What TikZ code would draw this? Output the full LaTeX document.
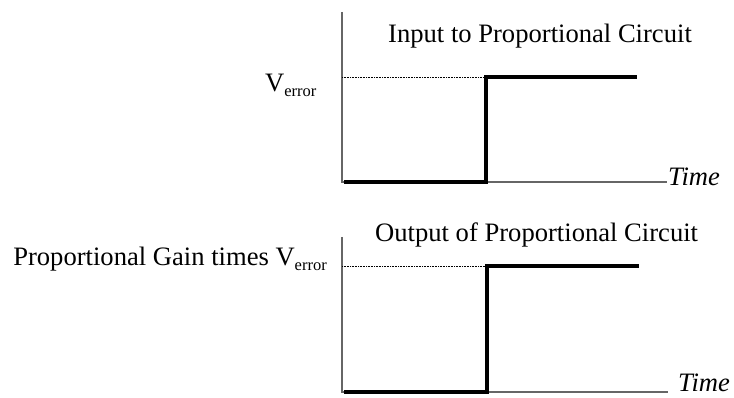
\documentclass[tikz,border=0pt]{standalone}
\usepackage{fontspec}
\setmainfont{Liberation Serif}
\usetikzlibrary{positioning}
\newcommand{\Verr}{V\raisebox{-4.5pt}{\fontsize{16.5}{18}\selectfont error}}
\begin{document}
\begin{tikzpicture}[x=1pt,y=-1pt,line join=miter,line cap=butt,
	axis/.style={line width=1.1pt,black!60},
	signal/.style={line width=4pt},
	level/.style={densely dotted,line width=0.6pt},
	lbl/.style={font=\fontsize{26.6}{30}\selectfont,inner sep=0pt}]
	\useasboundingbox (0,0) rectangle (734,398);
	% input graph
	\coordinate (O1) at (342,182);
	\coordinate (Y1) at (342,12);
	\coordinate (X1) at (667,182);
	\coordinate (S1) at (486,182);
	\coordinate (T1) at (486,77);
	\coordinate (E1) at (637,77);
	\draw[axis] (Y1)--(O1)--(X1);
	\draw[level] (342,77)--(T1);
	\draw[signal] (344,182)--(S1)--(T1)--(E1);
	\node[lbl,anchor=base west] (time1) at (668,186) {\textit{Time}};
	\node[lbl,anchor=base west] (title1) at (388,43) {Input to Proportional Circuit};
	\node[lbl,anchor=base west] (verr) at (265,92) {\Verr};
	% output graph
	\coordinate (O2) at (342,392);
	\coordinate (Y2) at (342,237);
	\coordinate (X2) at (668,392);
	\coordinate (S2) at (487,392);
	\coordinate (T2) at (487,266);
	\coordinate (E2) at (639,266);
	\draw[axis] (Y2)--(O2)--(X2);
	\draw[level] (342,266)--(T2);
	\draw[signal] (344,392)--(S2)--(T2)--(E2);
	\node[lbl,anchor=base west] (time2) at (678,391) {\textit{Time}};
	\node[lbl,anchor=base west] (title2) at (375,242) {Output of Proportional Circuit};
	\node[lbl,anchor=base east] (gain) at (327,266) {Proportional Gain times \Verr};
\end{tikzpicture}
\end{document}
